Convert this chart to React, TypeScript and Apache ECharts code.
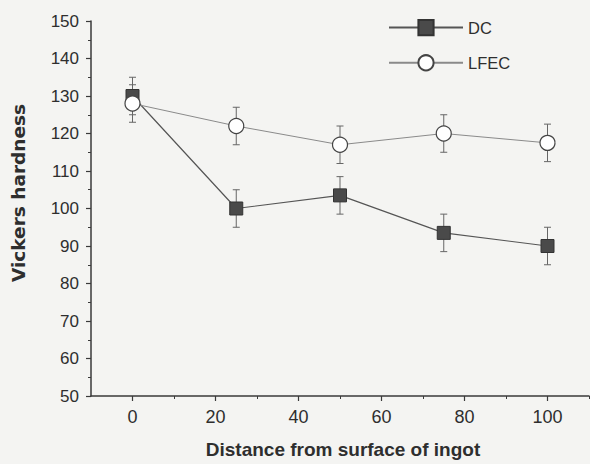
import React, { useEffect, useRef } from "react";
import * as echarts from "echarts";

const distances = [0, 25, 50, 75, 100];
const dcHardness = [130, 100, 103.5, 93.5, 90];
const dcError = [5, 5, 5, 5, 5];
const lfecHardness = [128, 122, 117, 120, 117.5];
const lfecError = [5, 5, 5, 5, 5];
const xTicks = [0, 20, 40, 60, 80, 100];
const xMinorTicks = [10, 30, 50, 70, 90, 110];

const FONT = "'Liberation Sans', Arial, sans-serif";
const TITLE_FONT_Y = "'DejaVu Sans', sans-serif";
const AXIS = "#3a3a3a";
const TEXT = "#2e2e2e";

function errorSeries(values: number[], errors: number[]) {
  return {
    type: "custom",
    xAxisIndex: 0,
    yAxisIndex: 0,
    z: 1,
    silent: true,
    data: distances.map((d, i) => [d, values[i], errors[i]]),
    renderItem: (params: any, api: any) => {
      const x = api.value(0);
      const y = api.value(1);
      const e = api.value(2);
      const top = api.coord([x, y + e]);
      const bot = api.coord([x, y - e]);
      const w = 3.5;
      const style = { stroke: "#666", lineWidth: 1 };
      return {
        type: "group",
        children: [
          { type: "line", shape: { x1: top[0], y1: top[1], x2: bot[0], y2: bot[1] }, style },
          { type: "line", shape: { x1: top[0] - w, y1: top[1], x2: top[0] + w, y2: top[1] }, style },
          { type: "line", shape: { x1: bot[0] - w, y1: bot[1], x2: bot[0] + w, y2: bot[1] }, style },
        ],
      };
    },
  };
}

export default function App() {
  const ref = useRef<HTMLDivElement>(null);
  useEffect(() => {
    document.body.style.margin = "0";
    const chart = echarts.init(ref.current!, null, { renderer: "svg" });
    chart.setOption({
      animation: false,
      backgroundColor: "#f4f4f2",
      textStyle: { fontFamily: FONT },
      grid: { left: 91, right: 1, top: 21, bottom: 66, containLabel: false },
      legend: {
        orient: "vertical",
        left: 383,
        top: 14,
        itemWidth: 74,
        itemHeight: 19,
        itemGap: 18,
        data: ["DC", "LFEC"],
        textStyle: { fontFamily: FONT, fontSize: 16.5, color: TEXT },
      },
      xAxis: [
        {
          type: "value",
          min: -10,
          max: 110,
          name: "Distance from surface of ingot",
          nameLocation: "middle",
          nameGap: 44,
          nameTextStyle: { fontFamily: FONT, fontSize: 19, fontWeight: "bold", color: TEXT, padding: [0, 0, 0, 6] },
          axisLine: { show: true, onZero: false, lineStyle: { color: AXIS, width: 1.5 } },
          axisTick: { show: true, inside: false, length: 5, customValues: xTicks, lineStyle: { color: AXIS, width: 1.2 } },
          axisLabel: { customValues: xTicks, fontFamily: FONT, fontSize: 18, color: TEXT, margin: 12 },
          splitLine: { show: false },
        },
        {
          type: "value",
          min: -10,
          max: 110,
          position: "bottom",
          axisLine: { show: false, onZero: false },
          axisTick: { show: true, inside: false, length: 3, customValues: xMinorTicks, lineStyle: { color: AXIS, width: 1 } },
          axisLabel: { show: false },
          splitLine: { show: false },
        },
      ],
      yAxis: {
        type: "value",
        min: 50,
        max: 150,
        interval: 10,
        name: "Vickers hardness",
        nameLocation: "middle",
        nameGap: 63,
        nameTextStyle: { fontFamily: TITLE_FONT_Y, fontSize: 18.5, fontWeight: "bold", color: TEXT, padding: [0, 0, 0, 31] },
        axisLine: { show: true, onZero: false, lineStyle: { color: AXIS, width: 1.5 } },
        axisTick: { show: true, length: 5, lineStyle: { color: AXIS, width: 1.2 } },
        minorTick: { show: true, splitNumber: 2, length: 3, lineStyle: { color: AXIS, width: 1 } },
        axisLabel: { fontFamily: FONT, fontSize: 17, color: TEXT, margin: 12 },
        splitLine: { show: false },
      },
      series: [
        errorSeries(dcHardness, dcError),
        errorSeries(lfecHardness, lfecError),
        {
          name: "DC",
          type: "line",
          z: 2,
          data: distances.map((d, i) => [d, dcHardness[i]]),
          symbol: "rect",
          symbolSize: 13,
          lineStyle: { color: "#555", width: 1.2 },
          itemStyle: { color: "#4a4a4a", borderColor: "#333", borderWidth: 1 },
        },
        {
          name: "LFEC",
          type: "line",
          z: 3,
          data: distances.map((d, i) => [d, lfecHardness[i]]),
          symbol: "circle",
          symbolSize: 15,
          lineStyle: { color: "#8a8a8a", width: 1 },
          itemStyle: { color: "#ffffff", borderColor: "#444", borderWidth: 1.2 },
        },
      ],
    });
    return () => chart.dispose();
  }, []);
  return <div ref={ref} style={{ width: 590, height: 464 }} />;
}
